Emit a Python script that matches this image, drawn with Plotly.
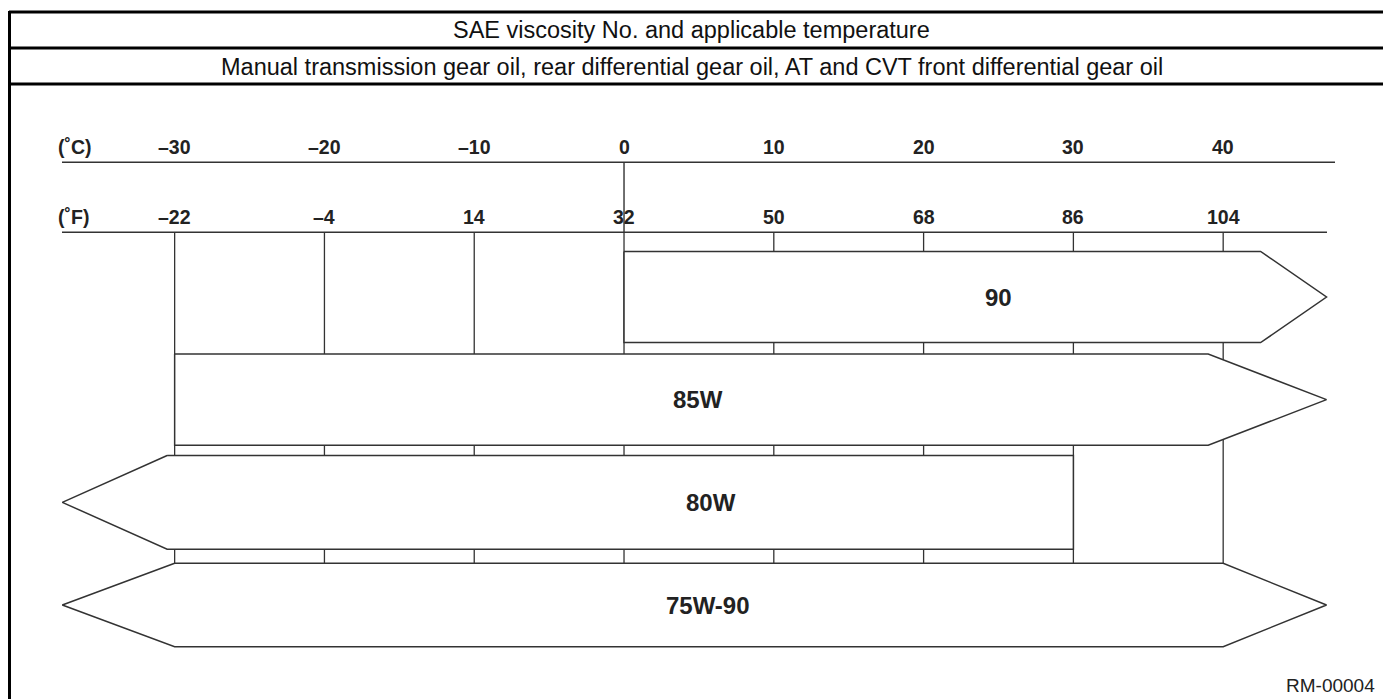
import plotly.graph_objects as go

# ---------------- data ----------------
celsius_ticks = [-30, -20, -10, 0, 10, 20, 30, 40]
celsius_labels = ["\u201330", "\u201320", "\u201310", "0", "10", "20", "30", "40"]
fahrenheit_ticks = [-22, -4, 14, 32, 50, 68, 86, 104]
fahrenheit_labels = ["\u201322", "\u20134", "14", "32", "50", "68", "86", "104"]

grades = ["90", "85W", "80W", "75W-90"]
# applicable range in degC; None = open ended (drawn as an arrow head)
range_low_c = [0, -30, None, None]
range_high_c = [None, None, 30, None]
# where each arrow head starts (degC)
arrow_left_shoulder_c = [None, None, -30.5, -30]
arrow_right_shoulder_c = [42.5, 39, None, 40]

title_text = "SAE viscosity No. and applicable temperature"
subtitle_text = ("Manual transmission gear oil, rear differential gear oil, "
                 "AT and CVT front differential gear oil")
code_text = "RM-00004"
c_unit = "(\u02daC)"
f_unit = "(\u02daF)"

# ---------------- style / layout ----------------
W, H = 1383, 699
X_RANGE = [-41.66, 50.67]          # degC across the full width
Y_RANGE = [3.9155, -2.8928]        # bar rows (reversed), across full height
TIP_LEFT_C, TIP_RIGHT_C = -37.5, 46.9
BAR_HALF = [0.444, 0.444, 0.456, 0.406]
C_AXIS_Y, F_AXIS_Y = -1.312, -0.630
C_LABEL_Y, F_LABEL_Y = -1.46, -0.78
LABEL_X_C = [25.0, 4.95, 5.8, 5.6]
FONT = "Liberation Sans, Arial, Helvetica, sans-serif"
LINE = "#333333"


def py(px):
    return 1 - px / H


def px_x(px):
    return px / W


def f_to_c(f):
    return (f - 32) * 5 / 9


fig = go.Figure()
shapes = []
annotations = []

# frame: header rows and left border
for ypx in (12, 48, 84):
    shapes.append(dict(type="line", xref="paper", yref="paper", x0=px_x(9), x1=1,
                       y0=py(ypx), y1=py(ypx), line=dict(color="black", width=3)))
shapes.append(dict(type="line", xref="paper", yref="paper", x0=px_x(9.5), x1=px_x(9.5),
                   y0=py(11), y1=0, line=dict(color="black", width=3)))
annotations.append(dict(text=title_text, xref="paper", yref="paper", x=px_x(692), y=py(30.5),
                        showarrow=False, xanchor="center", yanchor="middle",
                        font=dict(family=FONT, size=23.5, color="#111111")))
annotations.append(dict(text=subtitle_text, xref="paper", yref="paper", x=px_x(692), y=py(66.5),
                        showarrow=False, xanchor="center", yanchor="middle",
                        font=dict(family=FONT, size=23.5, color="#111111")))

# temperature scale lines
shapes.append(dict(type="line", xref="paper", yref="y", x0=px_x(62), x1=px_x(1335),
                   y0=C_AXIS_Y, y1=C_AXIS_Y, line=dict(color=LINE, width=1.6)))
shapes.append(dict(type="line", xref="paper", yref="y", x0=px_x(62), x1=px_x(1327),
                   y0=F_AXIS_Y, y1=F_AXIS_Y, line=dict(color=LINE, width=1.6)))
shapes.append(dict(type="line", xref="x", yref="y", x0=0, x1=0,
                   y0=C_AXIS_Y, y1=F_AXIS_Y, line=dict(color=LINE, width=1.4)))

# grid lines at the Fahrenheit ticks (drawn beneath the bars)
grid_bottom = (len(grades) - 1) - BAR_HALF[-1]
for f in fahrenheit_ticks:
    xc = f_to_c(f)
    shapes.append(dict(type="line", xref="x", yref="y", x0=xc, x1=xc,
                       y0=F_AXIS_Y, y1=grid_bottom, layer="below",
                       line=dict(color=LINE, width=1.3)))

# tick labels
for t, lab in zip(celsius_ticks, celsius_labels):
    annotations.append(dict(text="<b>%s</b>" % lab, xref="x", yref="y", x=t, y=C_LABEL_Y,
                            showarrow=False, xanchor="center", yanchor="middle",
                            font=dict(family=FONT, size=19.5, color="#222222")))
for f, lab in zip(fahrenheit_ticks, fahrenheit_labels):
    annotations.append(dict(text="<b>%s</b>" % lab, xref="x", yref="y", x=f_to_c(f), y=F_LABEL_Y,
                            showarrow=False, xanchor="center", yanchor="middle",
                            font=dict(family=FONT, size=19.5, color="#222222")))
for unit, yy in ((c_unit, C_LABEL_Y), (f_unit, F_LABEL_Y)):
    annotations.append(dict(text="<b>%s</b>" % unit, xref="paper", yref="y", x=px_x(56), y=yy,
                            showarrow=False, xanchor="left", yanchor="middle",
                            font=dict(family=FONT, size=19.5, color="#222222")))

# grade bars (arrow shaped when open ended)
for i, g in enumerate(grades):
    hh = BAR_HALF[i]
    top, bot = i - hh, i + hh
    xs, ys = [], []
    lo, hi = range_low_c[i], range_high_c[i]
    left_top = lo if lo is not None else arrow_left_shoulder_c[i]
    right_top = hi if hi is not None else arrow_right_shoulder_c[i]
    xs += [left_top, right_top]
    ys += [top, top]
    if hi is None:
        xs.append(TIP_RIGHT_C)
        ys.append(i)
    xs.append(right_top)
    ys.append(bot)
    xs.append(left_top)
    ys.append(bot)
    if lo is None:
        xs.append(TIP_LEFT_C)
        ys.append(i)
    xs.append(xs[0])
    ys.append(ys[0])
    fig.add_trace(go.Scatter(x=xs, y=ys, mode="lines", fill="toself", fillcolor="white",
                             line=dict(color=LINE, width=1.5), hoverinfo="skip",
                             showlegend=False, name=g))
    annotations.append(dict(text="<b>%s</b>" % g, xref="x", yref="y", x=LABEL_X_C[i], y=i,
                            showarrow=False, xanchor="center", yanchor="middle",
                            font=dict(family=FONT, size=24, color="#222222")))

annotations.append(dict(text=code_text, xref="paper", yref="paper", x=px_x(1377), y=py(685),
                        showarrow=False, xanchor="right", yanchor="middle",
                        font=dict(family=FONT, size=19, color="#222222")))

fig.update_layout(
    width=W, height=H, margin=dict(l=0, r=0, t=0, b=0, pad=0),
    paper_bgcolor="white", plot_bgcolor="white",
    xaxis=dict(visible=False, range=X_RANGE, fixedrange=True),
    yaxis=dict(visible=False, range=Y_RANGE, fixedrange=True),
    shapes=shapes, annotations=annotations, showlegend=False,
)

fig.write_html("out.html", config={"displayModeBar": False},
               post_script="document.body.style.margin='0';document.body.style.overflow='hidden';")
